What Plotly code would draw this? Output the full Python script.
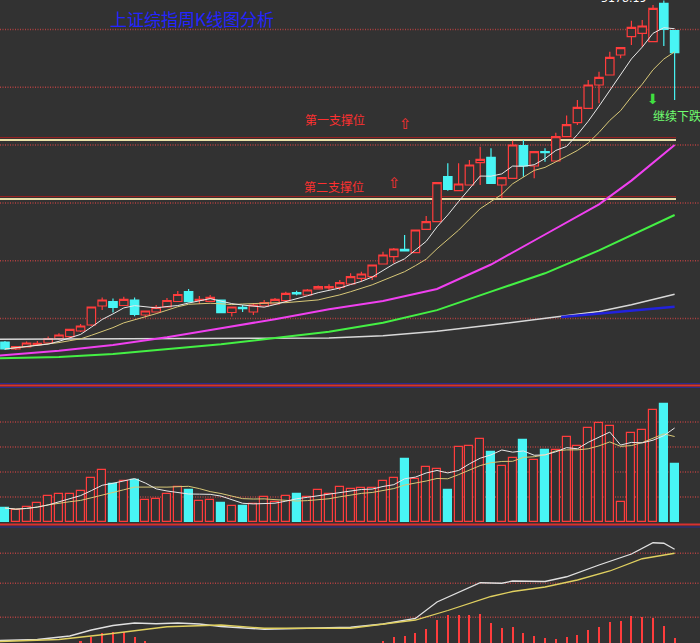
import numpy as np
import pandas as pd
import plotly.graph_objects as go

# ---------------- data (weekly candles) ----------------
week = list(range(63))
open_ = [1910, 1840, 1860, 1883, 1900, 1945, 1963, 2020, 2080, 2270,
         2313, 2275, 2330, 2180, 2210, 2260, 2315, 2413, 2327, 2317,
         2330, 2205, 2257, 2210, 2270, 2290, 2323, 2403, 2380, 2440,
         2450, 2457, 2490, 2547, 2563, 2690, 2763, 2837, 2803, 3037,
         3113, 3563, 3423, 3480, 3703, 3757, 3480, 3547, 3873, 3670,
         3813, 3720, 3965, 4103, 4247, 4480, 4580, 4780, 4963, 4997,
         4913, 5297, 5023]
high = [1920, 1870, 1915, 1920, 1965, 1997, 2040, 2090, 2265, 2355,
        2345, 2363, 2355, 2225, 2280, 2350, 2420, 2440, 2370, 2380,
        2335, 2265, 2280, 2300, 2330, 2350, 2413, 2423, 2440, 2475,
        2487, 2530, 2597, 2613, 2685, 2813, 2850, 2980, 3035, 3170,
        3510, 3697, 3697, 3730, 3863, 3847, 3560, 3923, 3930, 3820,
        3847, 4003, 4175, 4330, 4530, 4613, 4813, 4860, 5123, 5130,
        5280, 5325, 5030]
low = [1830, 1830, 1855, 1870, 1895, 1930, 1955, 2010, 2070, 2230,
       2205, 2270, 2167, 2155, 2205, 2255, 2310, 2305, 2290, 2310,
       2200, 2165, 2210, 2180, 2265, 2285, 2303, 2377, 2375, 2435,
       2430, 2430, 2485, 2513, 2530, 2685, 2697, 2815, 2800, 3032,
       3110, 3423, 3420, 3475, 3480, 3490, 3347, 3542, 3563, 3547,
       3713, 3715, 3960, 4080, 4242, 4297, 4575, 4747, 4880, 4863,
       4910, 4870, 4330]
close = [1840, 1863, 1900, 1897, 1945, 1980, 2037, 2070, 2260, 2330,
         2257, 2337, 2185, 2220, 2257, 2325, 2385, 2313, 2337, 2357,
         2203, 2260, 2243, 2280, 2305, 2337, 2397, 2390, 2430, 2463,
         2463, 2503, 2563, 2590, 2680, 2780, 2840, 2820, 3030, 3113,
         3503, 3437, 3490, 3680, 3737, 3497, 3553, 3880, 3670, 3813,
         3803, 3963, 4083, 4257, 4480, 4557, 4757, 4853, 5057, 5070,
         5247, 5037, 4803]
volume = [140, 117, 150, 190, 257, 283, 283, 307, 440, 523,
          383, 407, 417, 217, 233, 277, 350, 323, 210, 223,
          190, 157, 157, 177, 250, 200, 257, 277, 250, 323,
          277, 350, 333, 343, 343, 407, 440, 627, 427, 550,
          533, 317, 750, 757, 833, 700, 560, 643, 817, 617,
          717, 717, 850, 760, 940, 990, 957, 200, 893, 917,
          1123, 1183, 583]

# long moving averages (week index, value)
ma30_x = [-0.5, 5, 10, 15, 20, 25, 30, 35, 40, 45, 50, 55, 58, 60, 62]
ma30_v = [1775, 1822, 1880, 1957, 2048, 2138, 2238, 2320, 2440, 2685, 2985, 3287, 3524, 3702, 3880]
ma60_x = [-0.5, 5, 10, 15, 20, 25, 30, 35, 40, 45, 50, 55, 60, 62]
ma60_v = [1747, 1760, 1790, 1836, 1888, 1950, 2013, 2102, 2229, 2414, 2597, 2826, 3077, 3180]
ma120_x = [-0.5, 10, 20, 30, 35, 40, 45, 50, 55, 58, 60, 62]
ma120_v = [1937, 1940, 1943, 1950, 1972, 2017, 2079, 2143, 2214, 2282, 2337, 2387]
ma250_x = [51.5, 55, 58, 60, 62]
ma250_v = [2160, 2195, 2225, 2244, 2263]

# MACD panel
dif_x = [-0.5, 3, 6, 8, 10, 12, 14, 16, 18, 20, 24, 28, 32, 35, 38, 40, 42, 44, 46, 47, 50, 52, 55, 58, 60, 61, 62]
dif_v = [14, 18, 32, 56, 74, 84, 81, 84, 80, 70, 59, 62, 67, 80, 102, 168, 208, 245, 243, 252, 250, 269, 316, 360, 405, 403, 379]
dea_x = [-0.5, 5, 9, 12, 15, 20, 24, 32, 38, 41, 45, 47, 50, 53, 56, 59, 62]
dea_v = [10, 18, 37, 54, 69, 76, 63, 63, 96, 134, 190, 210, 228, 256, 292, 341, 363]
macd_hist = [0, 0, 0, 0, 0, 0, 0, 12, 28, 44,
             48, 48, 28, 12, 0, 0, 0, 0, 0, 0,
             0, 0, 0, 0, 0, 0, 0, 0, 0, 0,
             0, 0, 0, 0, 0, 13, 29, 32, 45, 59,
             96, 116, 116, 116, 120, 83, 63, 69, 43, 32,
             23, 19, 27, 36, 56, 69, 89, 93, 112, 109,
             103, 72, 23]

price_grid = [2145, 2723, 3301, 3879, 4457, 5035]
support_levels = [3930, 3340]
vol_grid = [250, 500, 750, 1000]
macd_grid = [107, 243, 363]

# ---------------- styling ----------------
BG = '#323232'
RED = '#ff3c3c'
CYAN = '#48f4f4'
GRID = '#b04040'
H = 643.0

def pf(px):
    return 1 - px / H

close_s = pd.Series(close, dtype=float)
ma5 = close_s.rolling(5, min_periods=1).mean()
ma10 = close_s.rolling(10, min_periods=1).mean()
vol_s = pd.Series(volume, dtype=float)
vma5 = vol_s.rolling(5, min_periods=1).mean()
vma10 = vol_s.rolling(10, min_periods=1).mean()

down = [c < o for o, c in zip(open_, close)]

fig = go.Figure()

# price MAs (behind candles)
fig.add_trace(go.Scatter(x=ma120_x, y=ma120_v, mode='lines', line=dict(color='#d8d8d8', width=1.5), yaxis='y'))
fig.add_trace(go.Scatter(x=ma250_x, y=ma250_v, mode='lines', line=dict(color='#2222dd', width=2.5), yaxis='y'))
fig.add_trace(go.Scatter(x=ma60_x, y=ma60_v, mode='lines', line=dict(color='#44f044', width=2), yaxis='y'))
fig.add_trace(go.Scatter(x=ma30_x, y=ma30_v, mode='lines', line=dict(color='#f040f0', width=2), yaxis='y'))
fig.add_trace(go.Scatter(x=week, y=ma10, mode='lines', line=dict(color='#d8c878', width=1), yaxis='y'))
fig.add_trace(go.Scatter(x=week, y=ma5, mode='lines', line=dict(color='#e8e8e8', width=1), yaxis='y'))

fig.add_trace(go.Candlestick(
    x=week, open=open_, high=high, low=low, close=close,
    increasing=dict(line=dict(color=RED, width=1.2), fillcolor=BG),
    decreasing=dict(line=dict(color=CYAN, width=1.2), fillcolor=CYAN),
    whiskerwidth=0, xaxis='x', yaxis='y'))

# volume
fig.add_trace(go.Bar(
    x=week, y=volume, width=0.74, yaxis='y2',
    marker=dict(color=[CYAN if d else BG for d in down],
                line=dict(color=[CYAN if d else RED for d in down], width=1.2))))
fig.add_trace(go.Scatter(x=week, y=vma10, mode='lines', line=dict(color='#d8c878', width=1), yaxis='y2'))
fig.add_trace(go.Scatter(x=week, y=vma5, mode='lines', line=dict(color='#e8e8e8', width=1), yaxis='y2'))

# MACD
fig.add_trace(go.Bar(x=week, y=macd_hist, width=0.2, yaxis='y3',
                     marker=dict(color=RED, line=dict(width=0))))
fig.add_trace(go.Scatter(x=dif_x, y=dif_v, mode='lines', line=dict(color='#e0e0e0', width=1.3), yaxis='y3'))
fig.add_trace(go.Scatter(x=dea_x, y=dea_v, mode='lines', line=dict(color='#e0d060', width=1.3), yaxis='y3'))

shapes = []
def hline(yref, val, color, width, dash='solid', x1=1.0):
    shapes.append(dict(type='line', xref='paper', yref=yref, x0=0, x1=x1, y0=val, y1=val,
                       line=dict(color=color, width=width, dash=dash), layer='below'))

for g in price_grid:
    hline('y', g, GRID, 1.5, '1px,1.5px')
for g in vol_grid:
    hline('y2', g, GRID, 1.5, '1px,1.5px')
for g in macd_grid:
    hline('y3', g, GRID, 1.5, '1px,1.5px')
for s in support_levels:
    hline('y', s + 24, '#a02020', 1, x1=676 / 700)
    hline('y', s, '#e8e0a8', 2, x1=676 / 700)

# panel separators
for px, col, w in [(383.5, '#2a2a90', 1), (385.5, '#d83030', 2), (387.5, '#2a2a90', 1),
                   (524.5, '#d83030', 2), (527, '#2a2a90', 1)]:
    shapes.append(dict(type='line', xref='paper', yref='paper', x0=0, x1=1,
                       y0=pf(px), y1=pf(px), line=dict(color=col, width=w)))

CJK = 'Noto Sans CJK SC'
ann = [
    dict(text='上证综指周K线图分析', x=192 / 700, y=pf(18), font=dict(family=CJK, size=17, color='#2424ff')),
    dict(text='第一支撑位', x=335 / 700, y=pf(120), font=dict(family=CJK, size=12, color='#ff3030')),
    dict(text='第二支撑位', x=334 / 700, y=pf(186), font=dict(family=CJK, size=12, color='#ff3030')),
    dict(text='⇧', x=405 / 700, y=pf(124), font=dict(family='DejaVu Sans', size=15, color='#ff3030')),
    dict(text='⇧', x=394 / 700, y=pf(183), font=dict(family='DejaVu Sans', size=15, color='#ff3030')),
    dict(text='⬇', x=653 / 700, y=pf(99), font=dict(family='DejaVu Sans', size=14, color='#40e040')),
    dict(text='继续下跌', x=651 / 700, y=pf(115), xanchor='left', font=dict(family=CJK, size=12, color='#70ff70')),
]
for a in ann:
    a.setdefault('xanchor', 'center')
    a.update(xref='paper', yref='paper', yanchor='middle', showarrow=False)
ann.append(dict(text='5178.19', x=624 / 700, y=1.0, xref='paper', yref='paper', xanchor='center',
                yanchor='bottom', yshift=-7, showarrow=False,
                font=dict(family='DejaVu Sans', size=11, color='#ffffff')))

fig.update_layout(
    width=700, height=643, margin=dict(l=0, r=0, t=0, b=0),
    paper_bgcolor=BG, plot_bgcolor=BG, showlegend=False,
    boxgap=0.22, boxgroupgap=0, bargap=0,
    xaxis=dict(range=[-0.46, 64.35], visible=False, rangeslider=dict(visible=False), fixedrange=True),
    yaxis=dict(domain=[pf(383), 1.0], range=[1500, 5330], visible=False),
    yaxis2=dict(domain=[pf(522), pf(388)], range=[0, 1340], visible=False, anchor='x'),
    yaxis3=dict(domain=[0, pf(527)], range=[4, 468], visible=False, anchor='x'),
    shapes=shapes, annotations=ann,
)

fig.write_html('out.html', config={'displayModeBar': False},
               post_script="document.body.style.margin='0px';document.body.style.overflow='hidden';")
